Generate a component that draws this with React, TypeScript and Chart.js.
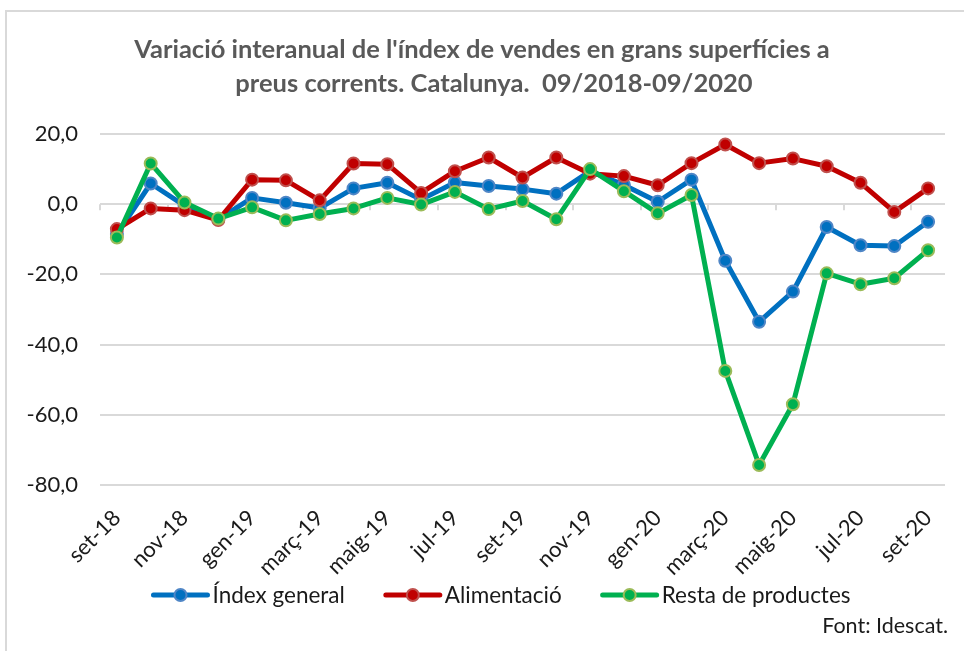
import React, { useEffect, useRef } from "react";
import { Chart, registerables } from "chart.js";

Chart.register(...registerables);

const titleLines = [
  "Variació interanual de l'índex de vendes en grans superfícies a",
  "preus corrents. Catalunya.  09/2018-09/2020",
];
const sourceText = "Font: Idescat.";

const months = [
  "set-18", "oct-18", "nov-18", "des-18", "gen-19", "febr-19", "març-19", "abr-19",
  "maig-19", "juny-19", "jul-19", "ag-19", "set-19", "oct-19", "nov-19", "des-19",
  "gen-20", "febr-20", "març-20", "abr-20", "maig-20", "juny-20", "jul-20", "ag-20", "set-20",
];

const indexGeneral = [
  -8.5, 5.9, -0.4, -4.3, 1.8, 0.4, -1.1, 4.5, 6.1, 1.3, 6.2, 5.2, 4.3,
  3.0, 9.4, 5.5, 0.7, 7.0, -16.1, -33.5, -24.9, -6.5, -11.7, -11.9, -5.0,
];
const alimentacio = [
  -7.1, -1.2, -1.7, -4.5, 7.0, 6.8, 1.1, 11.6, 11.4, 3.2, 9.4, 13.3, 7.6,
  13.3, 8.7, 8.0, 5.4, 11.7, 17.0, 11.7, 13.0, 10.8, 6.1, -2.2, 4.5,
];
const restaProductes = [
  -9.5, 11.6, 0.5, -4.1, -0.9, -4.6, -2.8, -1.2, 1.8, -0.1, 3.5, -1.4, 0.9,
  -4.3, 10.0, 3.7, -2.6, 2.6, -47.5, -74.3, -57.0, -19.7, -22.8, -21.1, -13.1,
];

const seriesNames = ["Índex general", "Alimentació", "Resta de productes"];
const yTicks = { min: -80, max: 20, step: 20 };

const FONT = "Lato, 'Open Sans', sans-serif";
const TEXT = "#1a1a1a";
const GRID = "#d9d9d9";

const decorPlugin = {
  id: "decor",
  beforeDraw(chart: any) {
    const { ctx, width, height } = chart;
    ctx.save();
    ctx.fillStyle = "#ffffff";
    ctx.fillRect(0, 0, width, height);
    ctx.strokeStyle = GRID;
    ctx.lineWidth = 2;
    ctx.strokeRect(6, 11, width + 50, height + 50);
    ctx.restore();
  },
  beforeDatasetsDraw(chart: any) {
    const { ctx } = chart;
    const xs = chart.scales.x;
    const ys = chart.scales.y;
    const y0 = ys.getPixelForValue(0);
    const step = xs.getPixelForValue(1) - xs.getPixelForValue(0);
    ctx.save();
    ctx.strokeStyle = GRID;
    ctx.lineWidth = 2;
    for (let k = 0; k < months.length; k += 2) {
      const x = Math.round(xs.getPixelForValue(k) - step / 2);
      ctx.beginPath();
      ctx.moveTo(x, y0);
      ctx.lineTo(x, y0 + 6);
      ctx.stroke();
    }
    ctx.restore();
  },
  afterDraw(chart: any) {
    const { ctx, width } = chart;
    ctx.save();
    // title
    ctx.fillStyle = "#595959";
    ctx.font = `bold 25.5px ${FONT}`;
    ctx.textAlign = "center";
    ctx.textBaseline = "middle";
    ctx.fillText(titleLines[0], width / 2, 50);
    ctx.fillText(titleLines[1], width / 2 + 12, 84);

    // legend
    ctx.font = `22.5px ${FONT}`;
    const sample = 58;
    const gapText = 3;
    const gapItem = 39;
    const ds = chart.data.datasets;
    const widths = ds.map((d: any) => ctx.measureText(d.label).width);
    const total =
      widths.reduce((a: number, b: number) => a + b, 0) +
      ds.length * (sample + gapText) +
      (ds.length - 1) * gapItem;
    let x = 501 - total / 2;
    const ly = 595;
    ds.forEach((d: any, i: number) => {
      ctx.strokeStyle = d.borderColor;
      ctx.lineWidth = 5;
      ctx.lineCap = "round";
      ctx.beginPath();
      ctx.moveTo(x + 2, ly);
      ctx.lineTo(x + sample - 2, ly);
      ctx.stroke();
      ctx.beginPath();
      ctx.arc(x + sample / 2, ly, 6, 0, Math.PI * 2);
      ctx.fillStyle = d.pointBackgroundColor;
      ctx.fill();
      ctx.lineWidth = 2;
      ctx.strokeStyle = d.pointBorderColor;
      ctx.stroke();
      ctx.fillStyle = TEXT;
      ctx.textAlign = "left";
      ctx.fillText(d.label, x + sample + gapText, ly + 1);
      x += sample + gapText + widths[i] + gapItem;
    });

    // source
    ctx.font = `21.5px ${FONT}`;
    ctx.textAlign = "right";
    ctx.fillStyle = TEXT;
    ctx.fillText(sourceText, 948, 626);
    ctx.restore();
  },
};

function makeDataset(label: string, data: number[], line: string, marker: string, order: number) {
  return {
    label,
    data,
    borderColor: line,
    backgroundColor: line,
    borderWidth: 5,
    pointRadius: 6,
    pointHoverRadius: 6,
    pointBorderWidth: 2,
    pointBackgroundColor: line,
    pointBorderColor: marker,
    borderJoinStyle: "round" as const,
    borderCapStyle: "round" as const,
    tension: 0,
    order,
  };
}

export default function App() {
  const ref = useRef<HTMLCanvasElement>(null);
  useEffect(() => {
    if (!ref.current) return;
    const chart = new Chart(ref.current, {
      type: "line",
      data: {
        labels: months,
        datasets: [
          makeDataset(seriesNames[0], indexGeneral, "#0070c0", "#4f86c6", 3),
          makeDataset(seriesNames[1], alimentacio, "#c00000", "#c0504d", 2),
          makeDataset(seriesNames[2], restaProductes, "#00b050", "#9bbb59", 1),
        ],
      },
      options: {
        responsive: false,
        animation: false,
        devicePixelRatio: 1,
        layout: { padding: { top: 134, right: 19, left: 0, bottom: 0 } },
        plugins: {
          legend: { display: false },
          title: { display: false },
          tooltip: { enabled: false },
        },
        scales: {
          x: {
            type: "category",
            offset: true,
            grid: { display: false },
            border: { display: false },
            ticks: {
              autoSkip: false,
              maxRotation: 45,
              minRotation: 45,
              padding: 12,
              color: TEXT,
              font: { family: FONT, size: 22 },
              callback: (_v: any, i: number) => (i % 2 === 0 ? months[i] : ""),
            },
            afterFit: (s: any) => {
              s.height = 166;
            },
          },
          y: {
            min: yTicks.min,
            max: yTicks.max,
            grid: { color: GRID, lineWidth: 2, drawTicks: false },
            border: { display: false },
            ticks: {
              stepSize: yTicks.step,
              padding: 22,
              color: TEXT,
              font: { family: FONT, size: 22 },
              callback: (v: any) => Number(v).toFixed(1).replace(".", ","),
            },
            afterFit: (s: any) => {
              s.width = 100;
            },
          },
        },
      },
      plugins: [decorPlugin],
    });
    return () => chart.destroy();
  }, []);
  return (
    <div style={{ position: "absolute", left: 0, top: 0, width: 964, height: 651 }}>
      <canvas ref={ref} width={964} height={651} style={{ display: "block" }} />
    </div>
  );
}
